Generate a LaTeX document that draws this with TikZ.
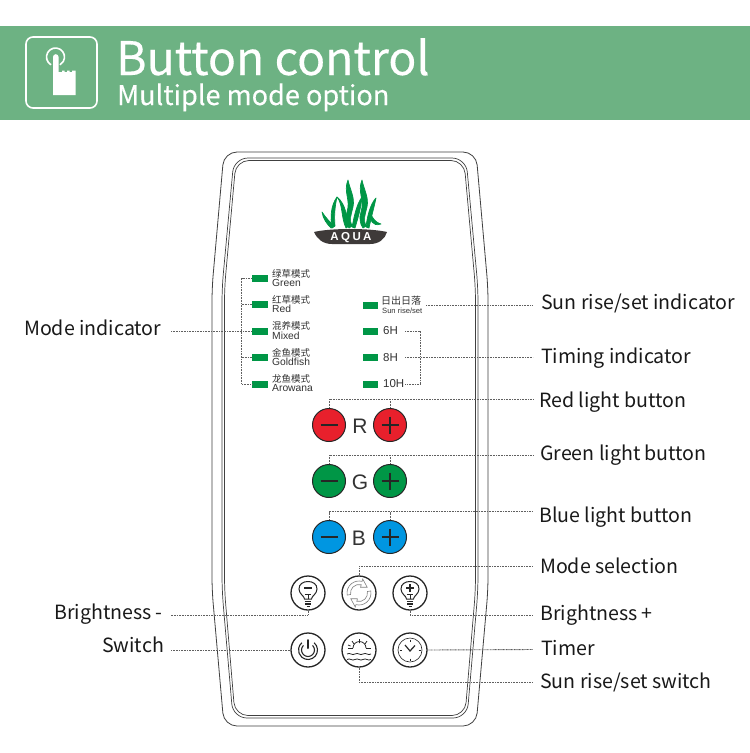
\documentclass[tikz,border=0pt]{standalone}
\usepackage{fontspec}
\setmainfont{Noto Sans CJK SC}
\newfontfamily\cjkfont{Noto Sans CJK SC}
\newfontfamily\titlefont[FakeBold=0.3]{Noto Sans CJK SC}
\newfontfamily\panelfont{Liberation Sans}
\definecolor{headergreen}{RGB}{109, 178, 131}
\definecolor{ledgreen}{RGB}{0, 150, 70}
\definecolor{btnred}{RGB}{232, 32, 44}
\definecolor{btngreen}{RGB}{0, 150, 70}
\definecolor{btnblue}{RGB}{0, 150, 225}
\definecolor{logogrey}{RGB}{62, 58, 57}
\definecolor{leadgrey}{RGB}{95, 95, 95}
\usetikzlibrary{arrows.meta, positioning, calc}
\tikzset{
  calllabel/.style={font=\fontsize{19.6}{24}\selectfont, anchor=base west, inner sep=0pt, text=black!90},
  lead/.style={draw=leadgrey, line width=0.9pt, dash pattern=on 1pt off 0.6pt},
  led/.style={fill=ledgreen, minimum width=16pt, minimum height=7pt, inner sep=0pt},
  rgbbutton/.style={circle, draw=black!85, line width=1pt, minimum size=33pt, inner sep=0pt},
  iconbutton/.style={circle, draw=black!85, line width=1.3pt, minimum size=34pt, inner sep=0pt},
  zhlabel/.style={font=\cjkfont\fontsize{9.5}{10}\selectfont, anchor=west, inner sep=0pt, text=black!80},
  enlabel/.style={font=\panelfont\fontsize{10.3}{11}\selectfont, anchor=west, inner sep=0pt, text=black!80},
  hourlabel/.style={font=\panelfont\fontsize{11.5}{12}\selectfont, anchor=west, inner sep=0pt, text=black!80},
  letterlabel/.style={font=\panelfont\fontsize{21}{22}\selectfont, inner sep=0pt, text=black!80},
  iconline/.style={draw=black!85, line width=0.8pt},
  blade/.style={fill=ledgreen, draw=ledgreen, line width=0.7pt, line join=round},
  bulbicon/.pic={
    \draw[iconline, line width=1pt] (-3.5,3) .. controls (-3.5,0) and (-9,-2) .. (-9,-7)
      .. controls (-9,-12) and (-5,-14.5) .. (0,-14.5)
      .. controls (5,-14.5) and (9,-12) .. (9,-7)
      .. controls (9,-2) and (3.5,0) .. (3.5,3) -- cycle;
    \draw[iconline] (-3.2,-2) -- (3.2,-2) (0,-2) -- (0,3);
    \draw[iconline, line width=1.3pt] (-3.2,5.5) -- (3.2,5.5) (-2.8,8) -- (2.8,8);
    \draw[iconline, line width=1.3pt] (-1.5,10.5) -- (1.5,10.5);
  },
  swirlarrow/.pic={
    \draw[black!50, line width=0.6pt] (170:12) arc[start angle=170, end angle=285, radius=12]
      -- (285:14.5) -- (325:10) -- (285:6) -- (285:8.5)
      arc[start angle=285, end angle=170, radius=8.5] -- cycle;
  }
}

\begin{document}
\begin{tikzpicture}[x=1pt, y=-1pt]
\useasboundingbox (0,0) rectangle (750,753);
\fill[white] (0,0) rectangle (750,753);

\fill[headergreen] (0,26) rectangle (750,120);
\draw[white, line width=1.6pt, rounded corners=7pt] (26,37) rectangle (97,108);
\draw[white, line width=1.6pt] (55.5,57) ++(120:9) arc[start angle=120, end angle=420, radius=9];
\fill[white] (53,57) arc[start angle=180, end angle=360, radius=2.8] -- (58.6,72) -- (62,72) -- (62,70.5) -- (64.5,70.5) -- (64.5,72) -- (67,72) -- (67,70.5) -- (69.5,70.5) -- (69.5,72) -- (72,72) -- (72,70.5) -- (75.7,70.5) -- (75.7,95) -- (53,95) -- cycle;
\node[font=\titlefont\fontsize{46.3}{50}\selectfont, text=white, anchor=base west, inner sep=0pt] (title) at (116,75) {Button control};
\node[font=\titlefont\fontsize{27.1}{30}\selectfont, text=white, anchor=base west, inner sep=0pt] (subtitle) at (117,105) {Multiple mode option};

\draw[black!75, line width=0.8pt, rounded corners=13pt] (224,152) -- (476,152) -- (488,288) -- (488,590) -- (476,726) -- (224,726) -- (212,590) -- (212,288) -- cycle;
\draw[black!75, line width=0.7pt, rounded corners=14pt] (234,158) -- (466,158) -- (478,288) -- (478,590) -- (467,718) -- (233,718) -- (222,590) -- (222,288) -- cycle;
\draw[black!75, line width=0.7pt, rounded corners=13pt] (236,160.5) -- (464,160.5) -- (475.5,288) -- (475.5,590) -- (465,715.5) -- (235,715.5) -- (224.5,590) -- (224.5,288) -- cycle;

\fill[blade] (322,212) .. controls (323,219) and (327,224) .. (331,228) -- (334,226) .. controls (330,222) and (326,218) .. (322,212) -- cycle;
\fill[blade] (337,197) .. controls (331,205) and (330,217) .. (332,228) -- (335,226) .. controls (334,215) and (335,206) .. (337,197) -- cycle;
\fill[blade] (337,197) .. controls (343,204) and (341,218) .. (346,228) -- (349,226) .. controls (346,218) and (347,205) .. (337,197) -- cycle;
\fill[blade] (348,180) .. controls (343,192) and (351,200) .. (347,212) .. controls (345,218) and (346,224) .. (349,228) -- (352,226) .. controls (349,220) and (351,215) .. (353,207) .. controls (355,197) and (350,190) .. (348,180) -- cycle;
\fill[blade] (362,197) .. controls (356,205) and (354,218) .. (352,227) -- (355,228) .. controls (358,218) and (361,208) .. (362,197) -- cycle;
\fill[blade] (362,180) .. controls (357,192) and (365,200) .. (361,212) .. controls (359,218) and (360,224) .. (363,228) -- (366,226) .. controls (363,220) and (365,215) .. (367,207) .. controls (369,197) and (364,190) .. (362,180) -- cycle;
\fill[blade] (376,198) .. controls (370,204) and (367,218) .. (366,227) -- (369,228) .. controls (371,218) and (374,208) .. (376,198) -- cycle;
\fill[blade] (381,224) .. controls (376,223) and (372,218) .. (370,212) .. controls (370,220) and (372,227) .. (381,224) -- cycle;
\fill[logogrey] (314,232) .. controls (330,228) and (370,228) .. (387,232) .. controls (385,239) and (379,244) .. (370,244) -- (332,244) .. controls (323,244) and (317,239) .. (314,232) -- cycle;
\node[font=\panelfont\bfseries\fontsize{11.5}{12}\selectfont, text=white, inner sep=0pt] (aqua) at (351,237.5) {A\hspace{2.4pt}Q\hspace{2.4pt}U\hspace{2.4pt}A};

\node[led] (ledgreenmode) at (260,278) {};
\node[led] (ledred) at (260,304.5) {};
\node[led] (ledmixed) at (260,331) {};
\node[led] (ledgoldfish) at (260,357.5) {};
\node[led] (ledarowana) at (260,384) {};
\node[zhlabel] at (272,273.5) {绿草模式};
\node[enlabel] at (272,282.5) {Green};
\node[zhlabel] at (272,300) {红草模式};
\node[enlabel] at (272,309) {Red};
\node[zhlabel] at (272,326) {混养模式};
\node[enlabel] at (272,335.5) {Mixed};
\node[zhlabel] at (272,352.5) {金鱼模式};
\node[enlabel] at (272,361.5) {Goldfish};
\node[zhlabel] at (272,378.5) {龙鱼模式};
\node[enlabel] at (272,388) {Arowana};

\node[led, minimum width=15pt] (ledsun) at (370.5,305) {};
\node[led, minimum width=15pt] (ledsix) at (370.5,331) {};
\node[led, minimum width=15pt] (ledeight) at (370.5,357.5) {};
\node[led, minimum width=15pt] (ledten) at (370.5,384) {};
\node[zhlabel, font=\cjkfont\fontsize{10}{11}\selectfont] (sunzh) at (381,300.5) {日出日落};
\node[enlabel, font=\panelfont\fontsize{7.6}{8}\selectfont] (sunen) at (382,310.5) {Sun rise/set};
\node[hourlabel] (hoursix) at (383,331) {6H};
\node[hourlabel] (houreight) at (383,357.5) {8H};
\node[hourlabel] (hourten) at (383,384) {10H};

\node[rgbbutton, fill=btnred] (redminus) at (329,425) {};
\node[rgbbutton, fill=btnred] (redplus) at (390,425) {};
\node[rgbbutton, fill=btngreen] (greenminus) at (329,481) {};
\node[rgbbutton, fill=btngreen] (greenplus) at (390,481) {};
\node[rgbbutton, fill=btnblue] (blueminus) at (329,537) {};
\node[rgbbutton, fill=btnblue] (blueplus) at (390,537) {};
\node[letterlabel] at (360,426) {R};
\node[letterlabel] at (360,482) {G};
\node[letterlabel] at (359,538) {B};
\foreach \btn in {redminus, redplus, greenminus, greenplus, blueminus, blueplus}
  \draw[black!85, line width=2pt] ($(\btn)+(-8.5,0)$) -- ($(\btn)+(8.5,0)$);
\foreach \btn in {redplus, greenplus, blueplus}
  \draw[black!85, line width=2pt] ($(\btn)+(0,-8.5)$) -- ($(\btn)+(0,8.5)$);

\node[iconbutton] (dimbtn) at (308,593) {};
\node[iconbutton] (modebtn) at (359,593) {};
\node[iconbutton] (brightbtn) at (410,593) {};
\node[iconbutton] (powerbtn) at (308,650) {};
\node[iconbutton] (sunbtn) at (359,650) {};
\node[iconbutton] (timerbtn) at (410,650) {};

\pic at (308,596) {bulbicon};
\draw[iconline, line width=1.3pt] (304,588) -- (312,588);
\pic at (410,596) {bulbicon};
\draw[iconline, line width=1.2pt] (406,588) -- (414,588) (410,584) -- (410,592);

\pic at (359,593) {swirlarrow};
\pic[rotate=180] at (359,593) {swirlarrow};

\draw[iconline, line width=1.1pt] (308,650) ++(315:6.5) arc[start angle=315, end angle=585, radius=6.5];
\draw[iconline, line width=1.1pt] (308,650) ++(310:9.5) arc[start angle=310, end angle=590, radius=9.5];
\draw[iconline, line width=2pt, line cap=round] (308,640) -- (308,648);

\draw[iconline] (353,648) arc[start angle=180, end angle=360, radius=6.5];
\draw[iconline] (348,648) -- (353,648) (366,648) -- (371,648);
\draw[iconline] (359.5,639) -- (359.5,643) (352,641) -- (354,644) (367,641) -- (365,644) (348,645) -- (350.5,646);
\draw[iconline] (347,654) .. controls (350,652) and (352,656) .. (355,654) .. controls (358,652) and (360,656) .. (363,654) .. controls (366,652) and (368,656) .. (371,654);
\draw[iconline] (347,659.5) .. controls (350,657.5) and (352,661.5) .. (355,659.5) .. controls (358,657.5) and (360,661.5) .. (363,659.5) .. controls (366,657.5) and (368,661.5) .. (371,659.5);

\draw[iconline, line width=0.6pt] (410,650) circle (12);
\draw[iconline, line width=1.2pt] (405,645) -- (410,651) -- (415,645.5);
\draw[iconline] (410,639.5) -- (410,641.5) (410,658.5) -- (410,660.5) (399.5,650) -- (401.5,650) (418.5,650) -- (420.5,650);

\node[calllabel] (modelabel) at (24,335) {Mode indicator};
\node[calllabel] (sunindlabel) at (541,309) {Sun rise/set indicator};
\node[calllabel] (timinglabel) at (541,363) {Timing indicator};
\node[calllabel] (redlabel) at (539,407) {Red light button};
\node[calllabel] (greenlabel) at (540,460) {Green light button};
\node[calllabel] (bluelabel) at (539,522) {Blue light button};
\node[calllabel] (modesellabel) at (540,573) {Mode selection};
\node[calllabel] (brightlabel) at (540,620) {Brightness +};
\node[calllabel] (dimlabel) at (54,619) {Brightness -};
\node[calllabel] (switchlabel) at (102,652) {Switch};
\node[calllabel] (timerlabel) at (541,655) {Timer};
\node[calllabel] (sunswlabel) at (540,688) {Sun rise/set switch};

\coordinate (bracketleft) at (241.5,331);
\draw[lead] (171,331) -- (ledmixed.west);
\draw[lead] (ledgreenmode.west) -| (bracketleft |- ledarowana) -- (ledarowana.west);
\draw[lead] (bracketleft |- ledred) -- (ledred.west);
\draw[lead] (bracketleft |- ledgoldfish) -- (ledgoldfish.west);

\draw[lead] (426,305) -- (533,305);
\coordinate (bracketright) at (420,357.5);
\draw[lead] (405,331) -| (bracketright |- ledten) -- (405,384);
\draw[lead] (405,357.5) -- (533,357.5);

\draw[lead] (redminus.north) |- (533,399);
\draw[lead] (redplus.north) -- (redplus.north |- 0,399);
\draw[lead] (greenminus.north) |- (533,455);
\draw[lead] (greenplus.north) -- (greenplus.north |- 0,455);
\draw[lead] (blueminus.north) |- (533,511.5);
\draw[lead] (blueplus.north) -- (blueplus.north |- 0,511.5);

\draw[lead] (modebtn.north) |- (533,566);
\draw[lead] (brightbtn.south) |- (533,615);
\draw[lead] (dimbtn.south) |- (171,615);
\draw[lead] (powerbtn.west) -- (171,650);
\draw[lead] (timerbtn.east) -- (533,649.5);
\draw[lead] (sunbtn.south) |- (533,682);
\end{tikzpicture}
\end{document}
